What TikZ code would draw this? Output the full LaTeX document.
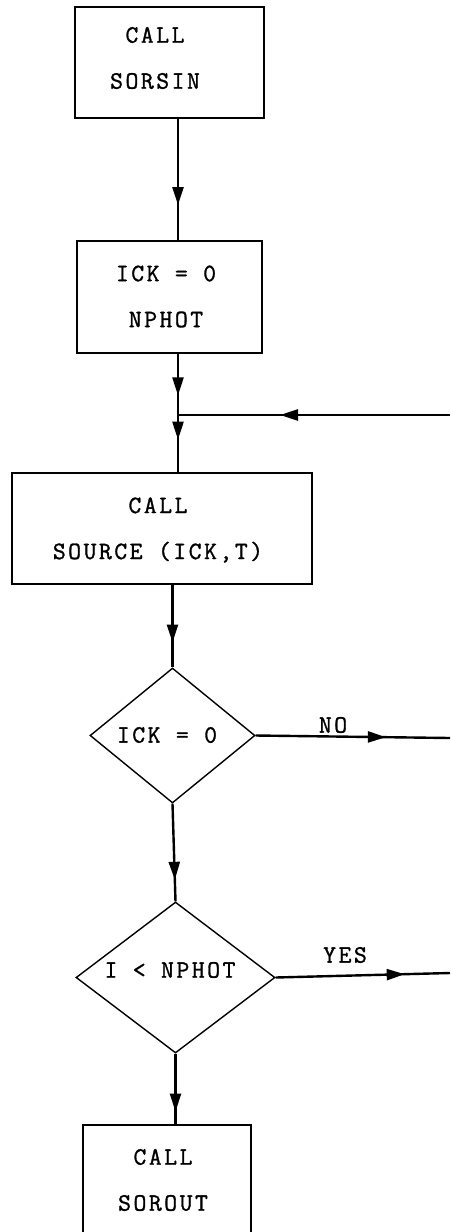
\documentclass[tikz,border=0pt]{standalone}
\usepackage{fontspec}
\setmonofont{Latin Modern Mono}[LetterSpace=10,FakeBold=1.2]
\usetikzlibrary{shapes.geometric,arrows.meta,decorations.markings}
\begin{document}
\begin{tikzpicture}[x=1pt,y=-1pt,
  box/.style={draw, line width=1.4pt, inner sep=0pt},
  dia/.style={draw, diamond, line width=1.4pt, inner sep=0pt, aspect=1},
  txt/.style={font=\ttfamily\fontsize{25}{46}\selectfont, align=center, inner sep=0pt},
  conn/.style={line width=2.4pt},
  midarrow/.style={postaction={decorate}, decoration={markings,
      mark=at position #1 with {\arrow{Triangle[length=18pt,width=11pt]}}}}
]
\useasboundingbox (0,0) rectangle (450,1232);

% boxes
\node[box, minimum width=189pt, minimum height=111pt] (b1) at (169.5,62.5) {};
\node[txt] (t1) at (155,58) {CALL\\SORSIN};

\node[box, minimum width=185pt, minimum height=112pt] (b2) at (169.5,297) {};
\node[txt] (t2) at (166,296.5) {ICK = 0\\NPHOT};

\node[box, minimum width=300pt, minimum height=111pt] (b3) at (162,528.5) {};
\node[txt] (t3) at (158,530) {CALL\\SOURCE (ICK,T)};

\node[dia, minimum width=165pt, minimum height=135pt] (d1) at (172.5,735.5) {};
\node[txt] (t4) at (167,735) {ICK = 0};

\node[dia, minimum width=199pt, minimum height=151pt] (d2) at (175.5,977.5) {};
\node[txt] (t5) at (170,970) {I < NPHOT};

\node[box, minimum width=168pt, minimum height=125pt] (b4) at (167,1187.5) {};
\node[txt] (t6) at (163,1180) {CALL\\SOROUT};

% junctions and free ends
\coordinate (J) at (178,415);
\coordinate (R1) at (450,415);
\coordinate (E1) at (450,738);
\coordinate (E2) at (450,973);

% connectors
\draw[conn, midarrow=0.71] (b1.south -| J) -- (b2.north -| J);
\draw[conn, midarrow=0.68] (b2.south -| J) -- (J);
\draw[conn, midarrow=0.43] (J) -- (b3.north -| J);
\draw[conn, midarrow=0.625] (R1) -- (J);
\draw[conn, midarrow=0.70] (b3.south -| d1.north) -- (d1.north);
\draw[conn, midarrow=0.78] (d1.south) -- (d2.north);
\draw[conn, midarrow=0.82] (d2.south) -- (b4.north -| d2.south);
\draw[conn, midarrow=0.67] (d1.east) -- (E1);
\draw[conn, midarrow=0.74] (d2.east) -- (E2);

% labels
\node[txt] (no) at (333,725) {NO};
\node[txt] (yes) at (345,955) {YES};
\end{tikzpicture}
\end{document}
